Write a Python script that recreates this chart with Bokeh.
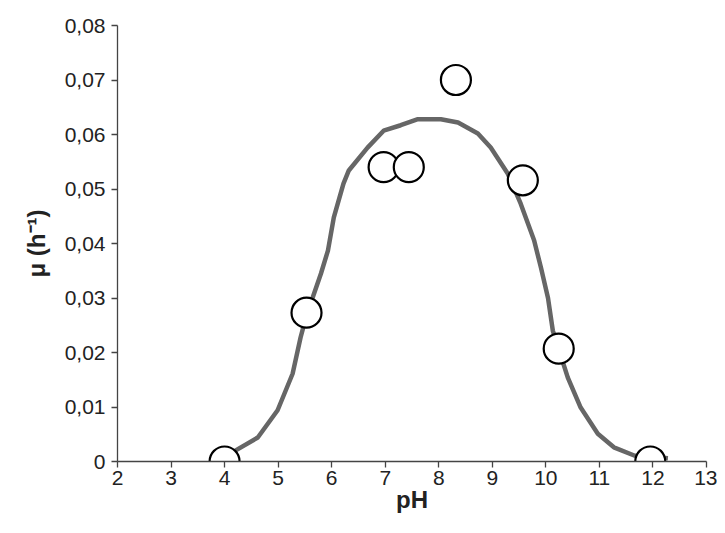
from bokeh.plotting import figure
from bokeh.models import FixedTicker, Range1d
from bokeh.embed import file_html
from bokeh.resources import INLINE

# data
ph_obs = [4.0, 5.53, 6.97, 7.44, 8.32, 9.57, 10.24, 11.95]
mu_obs = [0.0, 0.0273, 0.0540, 0.0540, 0.0700, 0.0516, 0.0207, 0.0]

ph_fit = [4.2, 4.62, 4.99, 5.27, 5.42, 5.53, 5.66, 5.80, 5.93, 6.04, 6.22, 6.32, 6.67, 6.97,
          7.29, 7.61, 8.04, 8.36, 8.73, 8.97, 9.29, 9.53, 9.78, 9.91, 10.04, 10.13, 10.41,
          10.65, 10.97, 11.27, 11.65, 12.28]
mu_fit = [0.002, 0.0044, 0.0094, 0.0161, 0.0228, 0.0268, 0.0305, 0.0345, 0.0387, 0.0448, 0.051,
          0.0534, 0.0576, 0.0607, 0.0617, 0.0628, 0.0628, 0.0622, 0.0602, 0.0576, 0.0528,
          0.0473, 0.0406, 0.0355, 0.030, 0.024, 0.0154, 0.0099, 0.0051, 0.0026, 0.0011, 0.0006]

x_ticks = list(range(2, 14))
y_ticks = [0.0, 0.01, 0.02, 0.03, 0.04, 0.05, 0.06, 0.07, 0.08]
y_labels = ["0", "0,01", "0,02", "0,03", "0,04", "0,05", "0,06", "0,07", "0,08"]

p = figure(width=717, height=525, output_backend="svg", toolbar_location=None,
           x_range=Range1d(2, 13), y_range=Range1d(0, 0.08),
           min_border_left=117, min_border_right=11, min_border_top=25, min_border_bottom=64)
p.outline_line_color = None
p.grid.grid_line_color = None
p.background_fill_color = "white"

p.line(ph_fit, mu_fit, line_color="#666666", line_width=4.5)
p.scatter(ph_obs, mu_obs, size=30, fill_color="white", line_color="black", line_width=2.2)

font = "Liberation Sans"
for ax in (p.xaxis[0], p.yaxis[0]):
    ax.axis_line_color = "#444444"
    ax.axis_line_width = 1.3
    ax.major_tick_line_color = "#444444"
    ax.major_tick_line_width = 1.3
    ax.major_tick_in = 0
    ax.major_tick_out = 6
    ax.minor_tick_line_color = None
    ax.major_label_text_font = font
    ax.major_label_text_font_size = "21px"
    ax.major_label_text_color = "#222222"
    ax.axis_label_text_font = font
    ax.axis_label_text_font_style = "bold"
    ax.axis_label_text_font_size = "24px"
    ax.axis_label_text_color = "#222222"

p.xaxis.ticker = FixedTicker(ticks=x_ticks)
p.yaxis.ticker = FixedTicker(ticks=y_ticks)
p.yaxis.major_label_overrides = {t: l for t, l in zip(y_ticks, y_labels)}
p.xaxis.axis_label = "pH"
p.yaxis.axis_label = "μ (h⁻¹)"
p.xaxis.major_label_standoff = 3
p.yaxis.major_label_standoff = 6
p.xaxis.axis_label_standoff = -2
p.yaxis.axis_label_standoff = 12

open("out.html", "w").write(file_html(p, INLINE))
